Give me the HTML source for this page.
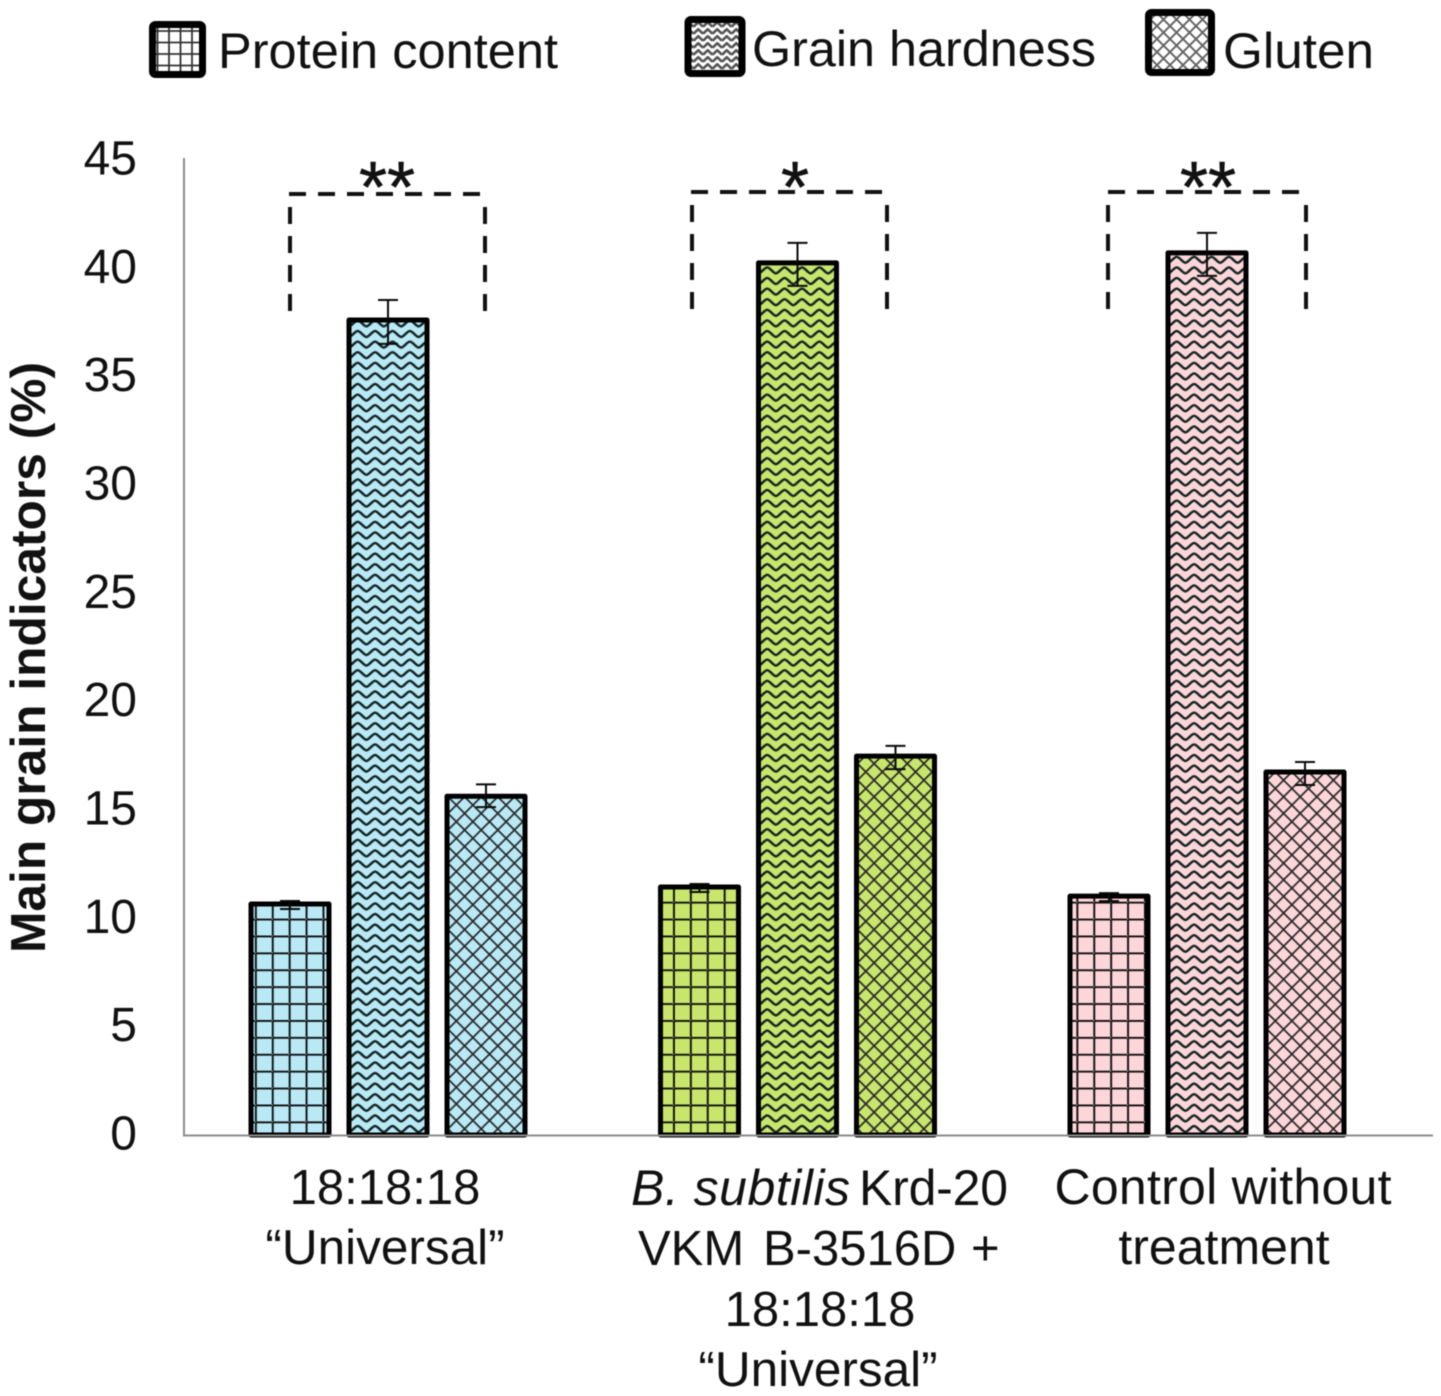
<!DOCTYPE html>
<html lang="en">
<head>
<meta charset="utf-8">
<title>Main grain indicators</title>
<style>
html,body{margin:0;padding:0;background:#fff;width:1441px;height:1396px;overflow:hidden}
svg{display:block;font-family:"Liberation Sans",Arial,sans-serif;fill:#111;filter:blur(.55px)}
</style>
</head>
<body>
<svg id="chart" xmlns="http://www.w3.org/2000/svg" width="1441" height="1396" viewBox="0 0 1441 1396">
  <defs id="defs">
    <pattern id="leg-grid" patternUnits="userSpaceOnUse" width="11.5" height="11.5" x="3" y="3"><rect width="11.5" height="11.5" fill="#fff"/><path d="M5 0V11.5M0 5H11.5" stroke="#333" stroke-width="1.8" fill="none"/></pattern>
    <pattern id="leg-wave" patternUnits="userSpaceOnUse" width="9.5" height="7"><rect width="9.5" height="7" fill="#fff"/><path d="M0 5.8L4.75 1.2 9.5 5.8" stroke="#555" stroke-width="2.6" fill="none"/></pattern>
    <pattern id="leg-cross" patternUnits="userSpaceOnUse" width="13" height="13"><rect width="13" height="13" fill="#fff"/><path d="M0 0L13 13M13 0L0 13" stroke="#666" stroke-width="2" fill="none"/></pattern>
  </defs>

  <g>
    <g>
      <rect x="152.5" y="24.5" width="50" height="50" rx="3" fill="url(#leg-grid)" stroke="#000" stroke-width="7"/>
      <text x="218" y="68" font-size="50" textLength="340" lengthAdjust="spacingAndGlyphs">Protein content</text>
    </g>
    <g>
      <rect x="688" y="19.5" width="54" height="54" rx="3" fill="url(#leg-wave)" stroke="#000" stroke-width="7"/>
      <text x="752" y="66" font-size="50" textLength="344" lengthAdjust="spacingAndGlyphs">Grain hardness</text>
    </g>
    <g>
      <rect x="1148.5" y="12.5" width="63" height="60" rx="3" fill="url(#leg-cross)" stroke="#000" stroke-width="7"/>
      <text x="1223" y="68" font-size="50" textLength="151" lengthAdjust="spacingAndGlyphs">Gluten</text>
    </g>
  </g>

  <text transform="translate(45,953) rotate(-90)" font-size="49.5" font-weight="700" textLength="591" lengthAdjust="spacingAndGlyphs">Main grain indicators (%)</text>

  <g id="y-ticks"></g>
  <g id="bars"></g>

  <line x1="184" y1="158" x2="184" y2="1135" stroke="#8c8c8c" stroke-width="2"/>
  <line x1="183" y1="1135.5" x2="1433" y2="1135.5" stroke="#8c8c8c" stroke-width="2"/>

  <g fill="none" stroke="#111" stroke-width="4" stroke-dasharray="17 12">
    <path d="M289 194H485"/>
    <path d="M290 207V312"/>
    <path d="M485 207V312"/>
    <path d="M691 192H887"/>
    <path d="M692 205V310"/>
    <path d="M887 205V310"/>
    <path d="M1108 192H1306"/>
    <path d="M1108 205V310"/>
    <path d="M1306 205V310"/>
  </g>
  <g font-size="72" text-anchor="middle" fill="#111" stroke="#111" stroke-width=".6">
    <text x="387" y="212">**</text>
    <text x="795" y="212">*</text>
    <text x="1208" y="212">**</text>
  </g>

  <g font-size="50" text-anchor="middle">
    <g>
      <text x="385" y="1204" font-size="49">18:18:18</text>
      <text x="385" y="1264" font-size="49.5">“Universal”</text>
    </g>
    <g>
      <text x="631" y="1205" text-anchor="start" font-style="italic" textLength="219" lengthAdjust="spacing">B. subtilis</text>
      <text x="859" y="1205" text-anchor="start" textLength="149" lengthAdjust="spacing">Krd-20</text>
      <text x="638" y="1265" text-anchor="start" font-size="49">VKM</text>
      <text x="763" y="1265" text-anchor="start" font-size="49">B-3516D</text>
      <text x="971" y="1265" text-anchor="start" font-size="49">+</text>
      <text x="820" y="1326" font-size="49">18:18:18</text>
      <text x="818" y="1386" font-size="49.5">“Universal”</text>
    </g>
    <g>
      <text x="1223" y="1204" textLength="337" lengthAdjust="spacing">Control without</text>
      <text x="1224" y="1264">treatment</text>
    </g>
  </g>
</svg>

<script>
var categories = ['18:18:18 Universal', 'B. subtilis Krd-20 VKM B-3516D + 18:18:18 Universal', 'Control without treatment'];
var seriesNames = ['Protein content', 'Grain hardness', 'Gluten'];
var proteinValues = [10.64, 11.42, 11.0];
var hardnessValues = [37.54, 40.17, 40.63];
var glutenValues = [15.6, 17.45, 16.72];
var proteinErrUp = [0.14, 0.14, 0.14];
var proteinErrDown = [0.23, 0.23, 0.23];
var hardnessErrUp = [0.92, 0.92, 0.92];
var hardnessErrDown = [1.1, 1.06, 1.06];
var glutenErrUp = [0.55, 0.47, 0.46];
var glutenErrDown = [0.5, 0.6, 0.6];
var tickValues = [0, 5, 10, 15, 20, 25, 30, 35, 40, 45];
var tickLabels = ['0', '5', '10', '15', '20', '25', '30', '35', '40', '45'];
var categoryColors = ['#b9e9f5', '#c8e56c', '#fdd6d9'];

var NS = 'http://www.w3.org/2000/svg';
function yScale(v) { return 1135 - v * (977 / 45); }
function tickBaseline(v) { return 1149 - v * (975 / 45); }
function groupCenter(i) { return 388 + i * 409.5; }
function barCenter(i, s) { return groupCenter(i) + (s - 1) * 98; }
var BAR_W = 78;

function make(tag, attrs, parent) {
  var el = document.createElementNS(NS, tag);
  for (var k in attrs) el.setAttribute(k, attrs[k]);
  if (parent) parent.appendChild(el);
  return el;
}

var defs = document.getElementById('defs');
function gridPhase(c) { return c === 0 ? 3.9 : (c === 1 ? 12.5 : 6.4); }
function addPatterns(c, color) {
  var g = make('pattern', {id: 'grid-' + c, patternUnits: 'userSpaceOnUse', width: 16.9, height: 16.9, x: gridPhase(c), y: 6}, defs);
  make('rect', {width: 16.9, height: 16.9, fill: color}, g);
  make('path', {d: 'M0 0V16.9M0 0H16.9', transform: 'translate(.95,.95)', stroke: '#0d0d0d', 'stroke-width': 1.9, fill: 'none'}, g);
  var w = make('pattern', {id: 'wave-' + c, patternUnits: 'userSpaceOnUse', width: 17.4, height: 10.6, x: 0, y: 0}, defs);
  make('rect', {width: 17.4, height: 10.6, fill: color}, w);
  make('path', {d: 'M-1 8.4L0 8.4C2.5 8.4 6 2.4 8.7 2.4S14.9 8.4 17.4 8.4L18.4 8.4', stroke: '#122', 'stroke-width': 2.4, fill: 'none'}, w);
  var x = make('pattern', {id: 'cross-' + c, patternUnits: 'userSpaceOnUse', width: 16.6, height: 16.6, x: 1, y: 0}, defs);
  make('rect', {width: 16.6, height: 16.6, fill: color}, x);
  make('path', {d: 'M0 0L16.6 16.6M16.6 0L0 16.6', stroke: '#262626', 'stroke-width': 1.7, fill: 'none'}, x);
}
categoryColors.forEach(function (col, c) { addPatterns(c, col); });

var ticksG = document.getElementById('y-ticks');
tickValues.forEach(function (v, i) {
  var t = make('text', {x: 137, y: tickBaseline(v) + 0.5, 'font-size': 48, 'text-anchor': 'end'}, ticksG);
  
  
  t.textContent = tickLabels[i];
});

var seriesValues = [proteinValues, hardnessValues, glutenValues];
var seriesErrUp = [proteinErrUp, hardnessErrUp, glutenErrUp];
var seriesErrDown = [proteinErrDown, hardnessErrDown, glutenErrDown];
var seriesPatterns = ['grid', 'wave', 'cross'];
var seriesKeys = ['protein', 'hardness', 'gluten'];
var barsG = document.getElementById('bars');

categories.forEach(function (cat, c) {
  seriesNames.forEach(function (name, s) {
    var val = seriesValues[s][c];
    var cx = barCenter(c, s);
    var top = yScale(val);
    var base = yScale(0);
    var holder = make('g', {transform: 'translate(' + (cx - BAR_W / 2) + ',0)'}, barsG);
    
    
    var bar = make('rect', {x: 0, y: top, width: BAR_W, height: base - top, fill: 'url(#' + seriesPatterns[s] + '-' + c + ')', stroke: '#000', 'stroke-width': 5, 'stroke-linejoin': 'round'}, holder);
    
    
    var ex = BAR_W / 2;
    var hi = yScale(val + seriesErrUp[s][c]);
    var lo = yScale(val - seriesErrDown[s][c]);
    var eb = make('path', {d: 'M' + (ex - 10) + ' ' + hi + 'H' + (ex + 10) + 'M' + ex + ' ' + hi + 'V' + lo + 'M' + (ex - 10) + ' ' + lo + 'H' + (ex + 10), stroke: '#0a0a0a', 'stroke-width': 2, fill: 'none'}, holder);
    
    
  });
});
</script>
</body>
</html>
